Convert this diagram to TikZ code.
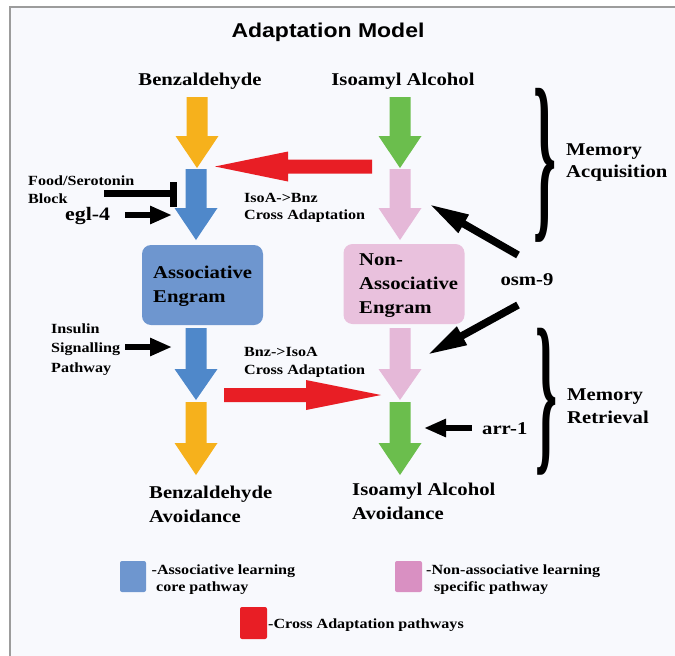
\documentclass[tikz,border=0pt]{standalone}
\usepackage{fontspec}
\usetikzlibrary{arrows.meta}
\newfontfamily\labfont{Liberation Serif}[FakeStretch=1.15]
\newfontfamily\bracefont{Liberation Serif}
\newfontfamily\titlefont{Liberation Sans}[FakeStretch=1.15]
\definecolor{bgc}{HTML}{F8F9FD}
\definecolor{framec}{HTML}{9C9C9C}
\definecolor{orangec}{HTML}{F6B11C}
\definecolor{greenc}{HTML}{6BBE4D}
\definecolor{bluec}{HTML}{4F88CA}
\definecolor{boxblue}{HTML}{6E96CF}
\definecolor{pinkc}{HTML}{E5B8D8}
\definecolor{boxpink}{HTML}{E9C1DD}
\definecolor{legpink}{HTML}{D990C2}
\definecolor{redc}{HTML}{E81E25}
\newcommand\vblock[5]{%
  \fill[#5] (#1-10.5,#2) -- (#1+10.5,#2) -- (#1+10.5,#3) -- (#1+21.5,#3) -- (#1,#4) -- (#1-21.5,#3) -- (#1-10.5,#3) -- cycle;}
\newcommand\hblock[5]{%
  \fill[#5] (#1,#4-7) -- (#2,#4-7) -- (#2,#4-15) -- (#3,#4) -- (#2,#4+15) -- (#2,#4+7) -- (#1,#4+7) -- cycle;}
\begin{document}
\begin{tikzpicture}[x=1pt,y=-1pt,
  big/.style={inner sep=0pt,anchor=base west,font=\labfont\bfseries\fontsize{18}{22}\selectfont},
  small/.style={inner sep=0pt,anchor=base west,font=\labfont\bfseries\fontsize{14}{18}\selectfont},
  blk/.style={line width=6pt,-{Triangle[length=22pt,width=17pt]}},
  blkdiag/.style={line width=7.5pt,-{Triangle[length=40pt,width=19pt]}},
  legbox/.style={rounded corners=2pt}]
\useasboundingbox (0,0) rectangle (675,656);
\fill[white] (0,0) rectangle (675,656);
\fill[bgc] (10,7) rectangle (675,656);
\draw[framec,line width=1.5pt] (10,656) -- (10,7) -- (675,7);

% title
\node[inner sep=0pt,font=\titlefont\bfseries\fontsize{20}{24}\selectfont] (title) at (328,32) {Adaptation Model};

% top labels
\node[big,anchor=base] (benz) at (200,85) {Benzaldehyde};
\node[big,anchor=base] (isoa) at (403,85) {Isoamyl Alcohol};

% vertical block arrows
\vblock{197}{97}{136}{168}{orangec}
\vblock{400}{97}{136}{168}{greenc}
\vblock{196}{169}{208}{240}{bluec}
\vblock{400}{169}{208}{240}{pinkc}
\vblock{196}{328}{369}{400}{bluec}
\vblock{400}{328}{369}{400}{pinkc}
\vblock{196}{402}{443}{475}{orangec}
\vblock{400}{402}{443}{475}{greenc}

% red cross adaptation arrows
\hblock{372}{288}{215}{166.5}{redc}
\hblock{224}{306}{381}{395}{redc}

% engram boxes
\node[fill=boxblue,rounded corners=9pt,minimum width=121pt,minimum height=80pt,inner sep=0pt] (assoc) at (202.5,285) {};
\node[fill=boxpink,rounded corners=9pt,minimum width=121pt,minimum height=80pt,inner sep=0pt] (nonassoc) at (404,284) {};
\node[big] (assoc1) at (153,278) {Associative};
\node[big] (assoc2) at (153,302) {Engram};
\node[big] (non1) at (359,265) {Non-};
\node[big] (non2) at (359,289) {Associative};
\node[big] (non3) at (359,313) {Engram};

% side labels
\node[small] (food1) at (28,185) {Food/Serotonin};
\node[small] (food2) at (28,203) {Block};
\node[big,font=\labfont\bfseries\fontsize{19}{22}\selectfont] (egl) at (65,220) {egl-4};
\node[small] (cr1a) at (244,202) {IsoA->Bnz};
\node[small] (cr1b) at (244,219) {Cross Adaptation};
\node[small] (ins1) at (51,333) {Insulin};
\node[small] (ins2) at (51,352.5) {Signalling};
\node[small] (ins3) at (51,372) {Pathway};
\node[small] (cr2a) at (244,356) {Bnz->IsoA};
\node[small] (cr2b) at (244,374) {Cross Adaptation};
\node[big,anchor=base] (osm) at (527,285) {osm-9};
\node[big] (arr) at (482,434) {arr-1};

% black arrows
\coordinate (blocktail) at (104,193.5);
\coordinate (blockend) at (170,193.5);
\draw[line width=7pt] (blocktail) -- (blockend);
\fill (170,182) rectangle (177,207);
\coordinate (egltail) at (125,215);
\coordinate (egltip) at (172,215);
\draw[blk] (egltail) -- (egltip);
\coordinate (instail) at (125,347);
\coordinate (instip) at (172,347);
\draw[blk] (instail) -- (instip);
\coordinate (arrtail) at (472,428);
\coordinate (arrtip) at (424,428);
\draw[blk] (arrtail) -- (arrtip);
\coordinate (osmuptail) at (518,255);
\coordinate (osmuptip) at (429,204);
\draw[blkdiag] (osmuptail) -- (osmuptip);
\coordinate (osmdntail) at (518,305);
\coordinate (osmdntip) at (427,355);
\draw[blkdiag] (osmdntail) -- (osmdntip);

% braces
\node[inner sep=0pt] (brace1) at (545,165) {\resizebox*{23pt}{154pt}{\bracefont\bfseries\fontsize{36}{36}\selectfont\}}};
\node[inner sep=0pt] (brace2) at (546,401.5) {\resizebox*{22pt}{147pt}{\bracefont\bfseries\fontsize{36}{36}\selectfont\}}};
\node[big] (mem1a) at (566,155) {Memory};
\node[big] (mem1b) at (566,177) {Acquisition};
\node[big] (mem2a) at (567,400) {Memory};
\node[big] (mem2b) at (567,423) {Retrieval};

% bottom labels
\node[big] (bav1) at (149,498) {Benzaldehyde};
\node[big] (bav2) at (149,522) {Avoidance};
\node[big] (iav1) at (352,495) {Isoamyl Alcohol};
\node[big] (iav2) at (352,519) {Avoidance};

% legend
\fill[boxblue,legbox] (120,561) rectangle (146,592);
\fill[legpink,legbox] (395,561) rectangle (422,592);
\fill[redc,legbox] (240,607) rectangle (267,639);
\node[small] (leg1a) at (151.5,574) {-Associative learning};
\node[small] (leg1b) at (156,591) {core pathway};
\node[small] (leg2a) at (426,574) {-Non-associative learning};
\node[small] (leg2b) at (434,591) {specific pathway};
\node[small] (leg3) at (268,628) {-Cross Adaptation pathways};
\end{tikzpicture}
\end{document}
